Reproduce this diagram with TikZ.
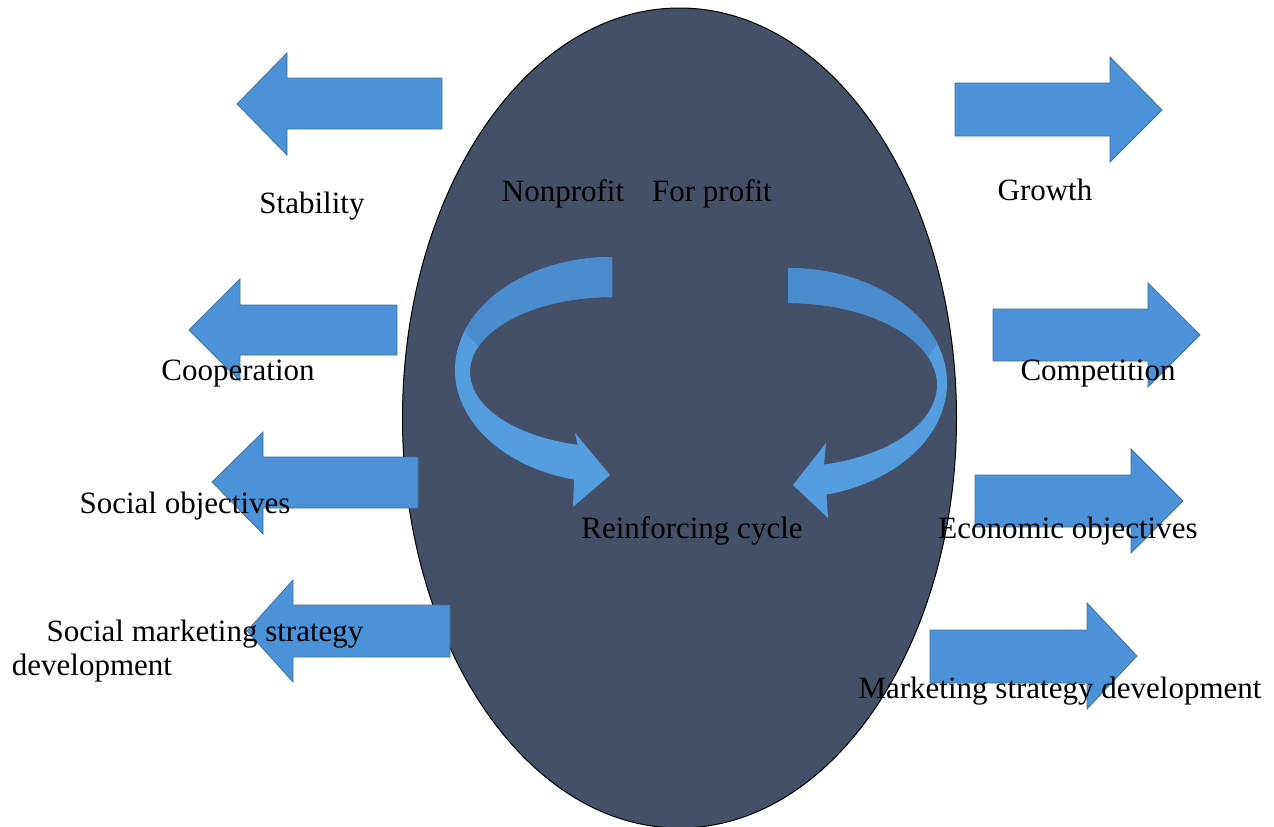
\documentclass[tikz,border=0pt]{standalone}
\usepackage{fontspec}
\setmainfont{Liberation Serif}
\usetikzlibrary{shapes.geometric}
\definecolor{oval}{RGB}{67,80,104}
\definecolor{arrowblue}{RGB}{76,146,216}
\definecolor{arrowedge}{RGB}{65,113,156}
\definecolor{ribbon}{RGB}{84,158,224}
\definecolor{ribbonback}{RGB}{74,140,205}
\begin{document}
\begin{tikzpicture}[x=1pt,y=-1pt,
  blk/.style={fill=arrowblue, draw=arrowedge, line width=0.8pt},
  lbl/.style={font=\fontsize{31}{36}\selectfont, inner sep=0pt, anchor=base, text=black}]
\useasboundingbox (0,0) rectangle (1274,827);
\fill[white] (0,0) rectangle (1274,827);
% central oval
\node[ellipse, draw=black, line width=1pt, fill=oval, minimum width=554pt, minimum height=820pt, inner sep=0pt] (oval) at (679.5,418) {};
% left block arrows
\draw[blk] (237,104) -- (287,53) -- (287,78) -- (442,78) -- (442,129) -- (287,129) -- (287,155) -- cycle;
\draw[blk] (189,330) -- (240,279) -- (240,305) -- (397,305) -- (397,355) -- (240,355) -- (240,381) -- cycle;
\draw[blk] (212,482) -- (263,432) -- (263,457) -- (418,457) -- (418,508) -- (263,508) -- (263,534) -- cycle;
\draw[blk] (247,631) -- (293,580) -- (293,605) -- (450,605) -- (450,657) -- (293,657) -- (293,682) -- cycle;
% right block arrows
\draw[blk] (1162,110) -- (1110,57) -- (1110,83) -- (955,83) -- (955,136) -- (1110,136) -- (1110,162) -- cycle;
\draw[blk] (1200,335) -- (1148,283) -- (1148,309) -- (993,309) -- (993,361) -- (1148,361) -- (1148,387) -- cycle;
\draw[blk] (1183,501) -- (1131,449) -- (1131,475) -- (975,475) -- (975,527) -- (1131,527) -- (1131,553) -- cycle;
\draw[blk] (1137,656) -- (1087,603) -- (1087,630) -- (930,630) -- (930,683) -- (1087,683) -- (1087,709) -- cycle;
% curved ribbon arrows
\fill[ribbon] plot[domain=270:104, samples=90] ({612+157*cos(\x)},{370+113*sin(\x)})
  -- (573,507) -- (610,475) -- (575,433)
  -- plot[domain=104:270, samples=90] ({612+142*cos(\x)},{372+75*sin(\x)}) -- cycle;
\fill[ribbonback] plot[domain=270:200, samples=60] ({612+157*cos(\x)},{370+113*sin(\x)})
  -- plot[domain=200:270, samples=60] ({612+142*cos(\x)},{372+75*sin(\x)}) -- cycle;
\fill[ribbon] plot[domain=-90:76, samples=90] ({788+159*cos(\x)},{383+115*sin(\x)})
  -- (828,518) -- (793,485) -- (826,443)
  -- plot[domain=76:-90, samples=90] ({788+149*cos(\x)},{385+82*sin(\x)}) -- cycle;
\fill[ribbonback] plot[domain=-90:-20, samples=60] ({788+159*cos(\x)},{383+115*sin(\x)})
  -- plot[domain=-20:-90, samples=60] ({788+149*cos(\x)},{385+82*sin(\x)}) -- cycle;
% labels
\node[lbl] (stab) at (312,213) {Stability};
\node[lbl] (nonp) at (563,201) {Nonprofit};
\node[lbl] (forp) at (712,201) {For profit};
\node[lbl] (grow) at (1045,200) {Growth};
\node[lbl] (coop) at (238,380) {Cooperation};
\node[lbl] (comp) at (1098,380) {Competition};
\node[lbl] (socobj) at (185,513) {Social objectives};
\node[lbl] (reinf) at (692,538) {Reinforcing cycle};
\node[lbl] (ecoobj) at (1068,538) {Economic objectives};
\node[lbl] (smsdA) at (205,641) {Social marketing strategy};
\node[lbl] (smsdB) at (92,675) {development};
\node[lbl] (msd) at (1060,698) {Marketing strategy development};
\end{tikzpicture}
\end{document}
